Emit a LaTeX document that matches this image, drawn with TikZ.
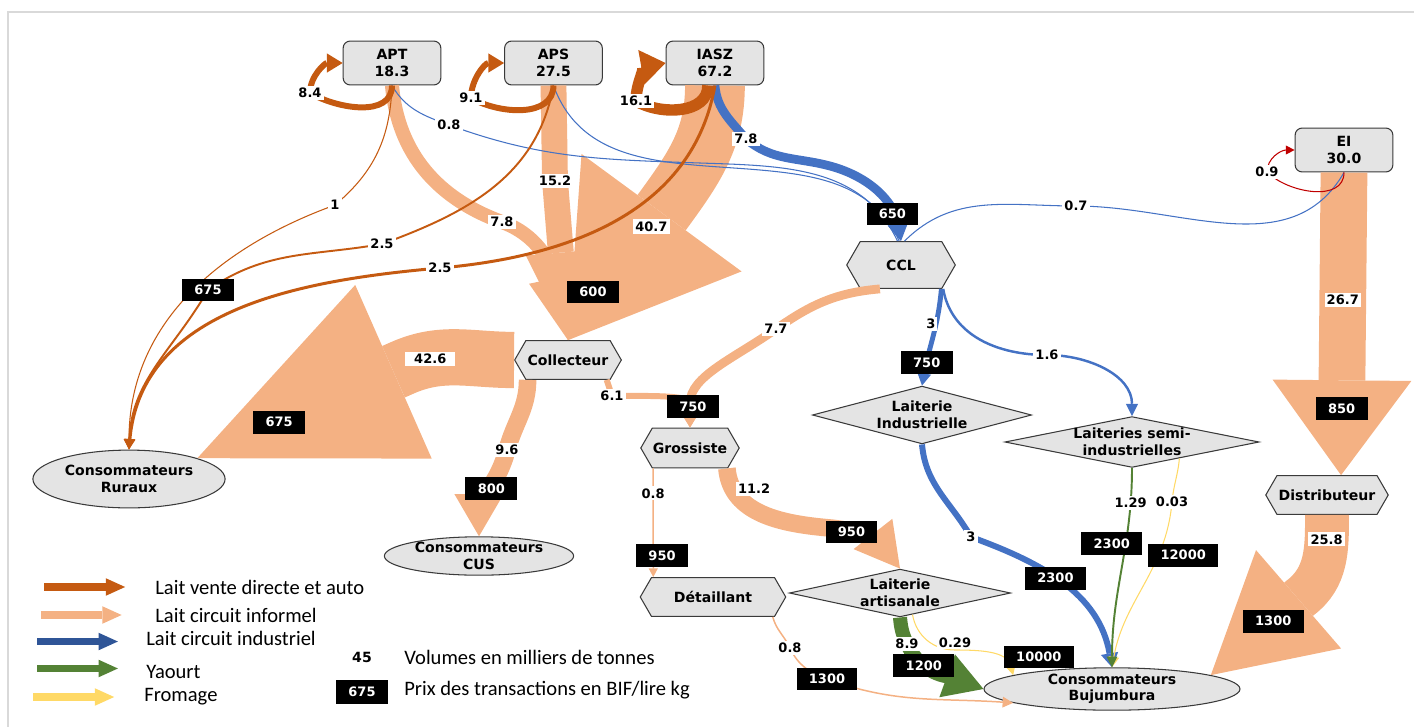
\documentclass[tikz,border=0pt]{standalone}
\usepackage{fontspec}
\setmainfont{Carlito}
\newfontfamily\nomfont{DejaVu Sans}
\usetikzlibrary{shapes.geometric, shapes.symbols, arrows.meta}

\definecolor{cVente}{HTML}{C55A11}
\definecolor{cInformel}{HTML}{F4B183}
\definecolor{cIndustriel}{HTML}{4472C4}
\definecolor{cLegBleu}{HTML}{2F5597}
\definecolor{cYaourt}{HTML}{548235}
\definecolor{cFromage}{HTML}{FFD966}
\definecolor{cRouge}{HTML}{C00000}
\definecolor{cBoite}{HTML}{E4E4E4}
\definecolor{cTrait}{HTML}{3A3A3A}
\definecolor{cCadre}{HTML}{D9D9D9}

\newcommand{\nom}{\nomfont\bfseries\fontsize{8}{9.4}\selectfont}
\newcommand{\chiffre}{\nomfont\bfseries\fontsize{7.4}{8.4}\selectfont}

\tikzstyle{ferme} = [rectangle, rounded corners=4pt, draw=cTrait, fill=cBoite, line width=0.6pt, minimum width=55.6pt, minimum height=25pt, align=center, font=\nom]
\tikzstyle{acteur} = [signal, signal to=west and east, signal pointer angle=120, draw=cTrait, fill=cBoite, line width=0.6pt, inner sep=0pt, font=\nom]
\tikzstyle{laiterie} = [diamond, draw=cTrait, fill=cBoite, line width=0.6pt, inner sep=0pt, align=center, font=\nom]
\tikzstyle{conso} = [ellipse, draw=cTrait, fill=cBoite, line width=0.6pt, inner sep=0pt, align=center, font=\nom]
\tikzstyle{vol} = [fill=white, inner sep=1.2pt, font=\chiffre]
\tikzstyle{prix} = [fill=black, text=white, inner xsep=7pt, inner ysep=0pt, minimum height=13pt, font=\chiffre]
\tikzstyle{legende} = [anchor=west, inner sep=0pt, font=\fontsize{11.7}{14}\selectfont]
\tikzstyle{direct} = [draw=cVente]
\tikzstyle{informel} = [draw=cInformel]
\tikzstyle{industriel} = [draw=cIndustriel]
\tikzstyle{yaourt} = [draw=cYaourt]
\tikzstyle{fromage} = [draw=cFromage]

\begin{document}
\begin{tikzpicture}[x=0.02cm, y=0.02cm, node distance=3.23cm]

\useasboundingbox (0,0) rectangle (1414,-727);
\draw[cCadre, line width=1.1pt] (1414,-12) -- (8,-12) -- (8,-727);

% producteurs
\node (apt) [ferme] at (392,-63) {APT\\18.3};
\node (aps) [ferme, right of=apt] {APS\\27.5};
\node (iasz) [ferme, right of=aps] {IASZ\\67.2};
\node (ei) [ferme] at (1344,-150) {EI\\30.0};

% intermediaires
\node (ccl) [acteur, minimum width=61.8pt, minimum height=26.6pt] at (901,-265) {CCL};
\node (coll) [acteur, minimum width=60.7pt, minimum height=22pt] at (568,-360) {Collecteur};
\node (gross) [acteur, minimum width=56pt, minimum height=22.7pt] at (690,-448) {Grossiste};
\node (detail) [acteur, minimum width=82.8pt, minimum height=22pt] at (713,-597) {Détaillant};
\node (distr) [acteur, minimum width=69.7pt, minimum height=22pt] at (1327,-495) {Distributeur};
\node (laitind) [laiterie, aspect=3.8, minimum width=124.7pt, minimum height=32.9pt] at (922,-415) {Laiterie\\Industrielle};
\node (laitsemi) [laiterie, aspect=5, minimum width=141.8pt, minimum height=28.9pt] at (1132,-442) {Laiteries semi-\\industrielles};
\node (laitart) [laiterie, aspect=4.6, minimum width=125.9pt, minimum height=27.2pt] at (900,-593) {Laiterie\\artisanale};

% consommateurs
\node (ruraux) [conso, minimum width=109.4pt, minimum height=32.9pt] at (129,-479) {Consommateurs\\Ruraux};
\node (cus) [conso, minimum width=107.7pt, minimum height=21.5pt] at (479,-556) {Consommateurs\\CUS};
\node (buju) [conso, minimum width=145.7pt, minimum height=21.5pt] at (1112,-689) {Consommateurs\\Bujumbura};

% circuit informel
\draw [informel, line width=34pt, -{Triangle[length=90pt, width=113pt, line width=0pt]}] (iasz.south) to[out=-90, in=54] (665,-208) -- node[vol, pos=.14] {40.7} (coll.north);
\draw [informel, line width=14.7pt, -{Triangle[length=50pt, width=40pt, line width=0pt]}] (aps.south) -- (555,-181) node[vol] {15.2} -- (coll.north);
\draw [informel, line width=8pt, -{Triangle[length=36pt, width=30pt, line width=0pt]}] (apt.south) to[out=-85, in=160] (502,-222) node[vol] {7.8} to[out=-20, in=102] node[prix, pos=.6, xshift=22pt, yshift=-6pt] {600} (coll.north);
\draw [informel, line width=32pt, -{Triangle[length=122pt, width=108pt, line width=0pt]}] (coll.west) to[out=180, in=24] node[vol, pos=.75, inner xsep=5pt] {42.6} (402,-368) -- node[prix, pos=.6] {675} (ruraux.north east);
\draw [informel, line width=10pt, -{Triangle[length=24pt, width=28pt, line width=0pt]}] ([xshift=-23pt]coll.south) to[out=-90, in=75] (507,-450) node[vol] {9.6} to[out=-105, in=90] node[prix, pos=.45] {800} (cus.north);
\draw [informel, line width=3.4pt, -{Triangle[length=14pt, width=17pt, line width=0pt]}] ([xshift=22pt]coll.south) -- (612,-396) node[vol] {6.1} to[out=0, in=90] (gross.north);
\draw [informel, line width=5pt, -{Triangle[length=14pt, width=17pt, line width=0pt]}] ([xshift=-12pt]ccl.south) to[out=185, in=35] (776,-329) node[vol] {7.7} to[out=215, in=90] node[prix, pos=.85] {750} (gross.north);
\draw [informel, line width=0.85pt, -{Triangle[length=5pt, width=5pt]}] ([xshift=-21pt]gross.south) -- node[vol, pos=.23] {0.8} node[prix, pos=.8, xshift=5pt] {950} ([xshift=-34pt]detail.north);
\draw [informel, line width=10pt, -{Triangle[length=25pt, width=28pt, line width=0pt]}] ([xshift=21pt]gross.south) to[out=-85, in=175] node[vol, pos=.2, xshift=11pt, yshift=2pt] {11.2} (830,-528) to[out=-5, in=128] node[prix, pos=.25] {950} (laitart.north);
\draw [informel, line width=0.85pt, -{Triangle[length=6pt, width=6pt]}] ([xshift=34pt]detail.south) to[out=-75, in=115] (790,-648) node[vol] {0.8} to[out=-65, in=160] (827,-679) node[prix] {1300} to[out=-20, in=176] (buju.188);
\draw [informel, line width=26.6pt, -{Triangle[length=54pt, width=79pt, line width=0pt]}] (ei.south) -- node[vol, pos=.42] {26.7} node[prix, pos=.78] {850} ([xshift=8pt]distr.north);
\draw [informel, line width=25pt, -{Triangle[length=66pt, width=74pt, line width=0pt]}] (distr.south) to[out=-90, in=37] node[vol, pos=.25] {25.8} (1300,-598) -- node[prix, pos=.3] {1300} (buju.8);

% circuit industriel
\draw [industriel, line width=0.6pt] (apt.south) to[out=-60, in=160] (449,-125) node[vol] {0.8} to[out=-20, in=178] (700,-163) to[out=-2, in=115] ([xshift=-2pt]ccl.north);
\draw [industriel, line width=0.6pt] (aps.south) to[out=-70, in=175] (760,-170) to[out=-5, in=115] ([xshift=-1pt]ccl.north);
\draw [industriel, line width=0.6pt] (ei.south) to[out=-120, in=0] (1076,-206) node[vol] {0.7} to[out=180, in=45] ([xshift=2pt]ccl.north);
\draw [industriel, line width=5pt, -{Triangle[length=10pt, width=12pt, line width=0pt]}] (iasz.south) to[out=-85, in=130] (746,-139) node[vol] {7.8} to[out=-40, in=165] (830,-166) to[out=-15, in=100] node[prix, pos=.75] {650} (ccl.north);
\draw [industriel, line width=2.8pt, -{Triangle[length=7pt, width=8pt, line width=0pt]}] ([xshift=23pt]ccl.south) to[out=-95, in=80] node[vol, pos=.35, xshift=-3pt] {3} node[prix, pos=.78] {750} (laitind.north);
\draw [industriel, line width=1.4pt, -{Triangle[length=7pt, width=7pt, line width=0pt]}] ([xshift=24pt]ccl.south) to[out=-80, in=180] (1047,-355) node[vol] {1.6} to[out=0, in=90] (laitsemi.north);
\draw [industriel, line width=3.4pt, -{Triangle[length=8pt, width=10pt, line width=0pt]}] (laitind.south) to[out=-85, in=120] (971,-537) node[vol] {3} to[out=-20, in=100] node[prix, pos=.45] {2300} (buju.north);

% fromage et yaourt
\draw [fromage, line width=0.6pt, -{Triangle[length=6pt, width=6pt]}] (laitsemi.-19) to[out=-95, in=85] (1172,-502) node[vol] {0.03} to[out=-95, in=80] node[prix, pos=.3, xshift=14pt] {12000} (buju.north);
\draw [fromage, line width=0.6pt, -{Triangle[length=6pt, width=6pt]}] (laitart.-60) to[out=-80, in=180] (955,-650) node[vol, above=0pt] {0.29} to[out=0, in=105] node[prix, pos=.85, xshift=17pt, yshift=5pt] {10000} (buju.172);
\draw [yaourt, line width=8pt, -{Triangle[length=22pt, width=26pt, line width=0pt]}] (laitart.south) to[out=-85, in=115] (907,-644) node[vol] {8.9} to[out=-65, in=160] node[prix, pos=.3] {1200} (buju.west);
\draw [yaourt, line width=1.1pt, -{Triangle[length=6pt, width=6pt, line width=0pt]}] (laitsemi.south) to[out=-90, in=90] node[vol, pos=.16] {1.29} node[prix, pos=.37, xshift=-8pt] {2300} (buju.north);

% vente directe et autoconsommation
\draw [direct, line width=0.6pt, -{Triangle[length=6pt, width=6pt]}] (apt.south) to[out=-92, in=40] (335,-205) node[vol] {1} to[out=200, in=90] (ruraux.north);
\draw [direct, line width=1.1pt, -{Triangle[length=6pt, width=6pt]}] (aps.south) to[out=-100, in=20] (382,-244) node[vol] {2.5} to[out=190, in=35] (208,-290) node[prix] {675} to[out=240, in=88] (ruraux.north);
\draw [direct, line width=1.7pt, -{Triangle[length=6pt, width=6pt]}] (iasz.south) to[out=-100, in=5] (440,-268) node[vol] {2.5} to[out=185, in=85] (ruraux.north);
\draw [direct, line width=3.4pt, -{Triangle[length=9pt, width=11pt, line width=0pt]}] (apt.south) to[out=-90, in=-30] (310,-93) node[vol] {8.4} to[out=90, in=180] (apt.west);
\draw [direct, line width=3.4pt, -{Triangle[length=9pt, width=11pt, line width=0pt]}] (aps.south) to[out=-90, in=-30] (471,-98) node[vol] {9.1} to[out=90, in=180] (aps.west);
\draw [direct, line width=6.5pt, -{Triangle[length=14pt, width=20pt, line width=0pt]}] ([xshift=-4pt]iasz.south) to[out=-90, in=-30] (636,-101) node[vol] {16.1} to[out=90, in=190] (iasz.west);
\draw [draw=cRouge, line width=0.6pt, -{Triangle[length=5pt, width=5pt]}] (ei.south) to[out=-90, in=-45] (1267,-172) node[vol] {0.9} to[out=90, in=180] (ei.west);

% legende
\node (lvente) [legende] at (155,-587) {Lait vente directe et auto};
\node (linformel) [legende] at (155,-615) {Lait circuit informel};
\node (lindus) [legende] at (146,-638) {Lait circuit industriel};
\node (lyaourt) [legende] at (146,-672) {Yaourt};
\node (lfromage) [legende] at (144,-697) {Fromage};
\draw [cVente, line width=4pt, -{Triangle[length=11pt, width=10pt, line width=0pt]}] ([xshift=-63pt]lvente.west) -- ([xshift=-17pt]lvente.west);
\draw [cInformel, line width=4pt, -{Triangle[length=11pt, width=10pt, line width=0pt]}] ([xshift=-65pt]linformel.west) -- ([xshift=-19pt]linformel.west);
\draw [cLegBleu, line width=4pt, -{Triangle[length=11pt, width=10pt, line width=0pt]}] ([xshift=-62pt, yshift=-2pt]lindus.west) -- ([xshift=-16pt, yshift=-2pt]lindus.west);
\draw [cYaourt, line width=4pt, -{Triangle[length=11pt, width=10pt, line width=0pt]}] ([xshift=-62pt, yshift=2pt]lyaourt.west) -- ([xshift=-16pt, yshift=2pt]lyaourt.west);
\draw [cFromage, line width=4pt, -{Triangle[length=11pt, width=10pt, line width=0pt]}] ([xshift=-63pt]lfromage.west) -- ([xshift=-17pt]lfromage.west);
\node (lvol) [font=\nom] at (362,-657) {45};
\node (lvoltxt) [legende] at (404,-657) {Volumes en milliers de tonnes};
\node (lprix) [prix, minimum height=14pt] at (362,-692) {675};
\node (lprixtxt) [legende] at (404,-690) {Prix des transactions en BIF/lire kg};

\end{tikzpicture}
\end{document}
